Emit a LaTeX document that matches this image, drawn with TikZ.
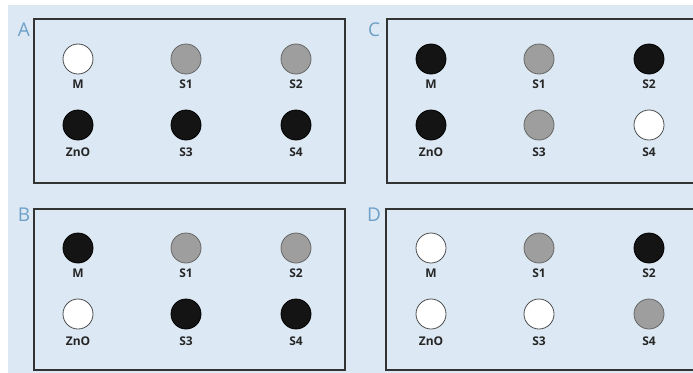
\documentclass[tikz,border=0pt]{standalone}
\usepackage{fontspec}
\setsansfont{Open Sans}
\definecolor{bgblue}{HTML}{DCE9F4}
\definecolor{lettblue}{HTML}{6FA0C8}
\newcommand\mypanel[9]{%
  \node[#4] (#1M) at (#2+44,#3+40) {};
  \node[lab] (#1Ml) at (#2+44,#3+65) {M};
  \node[#5] (#1S1) at (#2+152,#3+40) {};
  \node[lab] (#1S1l) at (#2+152,#3+65) {S1};
  \node[#6] (#1S2) at (#2+262,#3+40) {};
  \node[lab] (#1S2l) at (#2+262,#3+65) {S2};
  \node[#7] (#1Z) at (#2+44,#3+106) {};
  \node[lab] (#1Zl) at (#2+44,#3+133) {ZnO};
  \node[#8] (#1S3) at (#2+152,#3+106) {};
  \node[lab] (#1S3l) at (#2+152,#3+133) {S3};
  \node[#9] (#1S4) at (#2+262,#3+106) {};
  \node[lab] (#1S4l) at (#2+262,#3+133) {S4};
}
\begin{document}
\begin{tikzpicture}[x=1pt,y=-1pt,
  dot/.style={circle,minimum size=30pt,inner sep=0pt,line width=0.8pt},
  wdot/.style={dot,draw=black!70,fill=white},
  gdot/.style={dot,draw=black!60,fill=black!38},
  bdot/.style={dot,draw=black,fill=black!92},
  lab/.style={font=\sffamily\bfseries\fontsize{12}{12}\selectfont,text=black!85},
  panel/.style={draw=black!80,line width=1.1pt},
  plabel/.style={font=\sffamily\fontsize{19}{19}\selectfont,text=lettblue}]
\useasboundingbox (0,0) rectangle (693,372);
\clip (0,0) rectangle (693,372);
\fill[white] (0,0) rectangle (693,372);
\fill[bgblue] (8,5) rectangle (700,380);
% boxes
\draw[panel] (34,19) rectangle (345,183);
\draw[panel] (387,19) rectangle (720,183);
\draw[panel] (34,209) rectangle (345,370);
\draw[panel] (386,209) rectangle (720,370);
% panel letters
\node[plabel] (LA) at (24,30) {A};
\node[plabel] (LC) at (374,30) {C};
\node[plabel] (LB) at (24,215) {B};
\node[plabel] (LD) at (374,215) {D};
% panels
\mypanel{A}{34}{19}{wdot}{gdot}{gdot}{bdot}{bdot}{bdot}
\mypanel{C}{387}{19}{bdot}{gdot}{bdot}{bdot}{gdot}{wdot}
\mypanel{B}{34}{208}{bdot}{gdot}{gdot}{wdot}{bdot}{bdot}
\mypanel{D}{387}{208}{wdot}{gdot}{bdot}{wdot}{wdot}{gdot}
\end{tikzpicture}
\end{document}
